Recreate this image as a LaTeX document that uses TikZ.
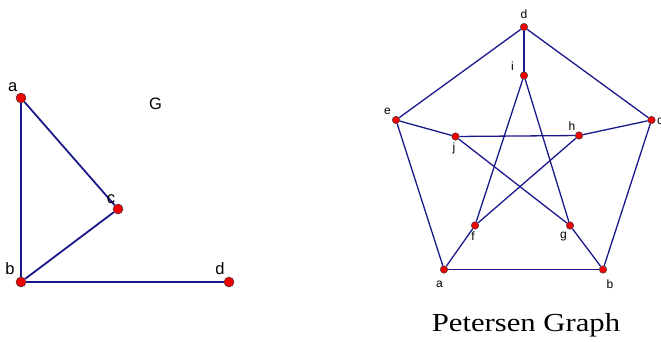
\documentclass[tikz,border=0pt]{standalone}
\usepackage{fontspec}
\setmainfont{Liberation Serif}
\setsansfont{Liberation Sans}
\usetikzlibrary{positioning}
\definecolor{edgeblue}{RGB}{25,25,140}
\definecolor{dotred}{RGB}{240,0,0}

\begin{document}
\begin{tikzpicture}[x=1pt, y=-1pt,
    vtx/.style={circle, fill=dotred, draw=black!75, line width=0.5pt,
      inner sep=0pt, minimum size=10pt},
    pvtx/.style={vtx, minimum size=7.5pt},
    lbl/.style={font=\sffamily\fontsize{16.5}{16.5}\selectfont, anchor=base, inner sep=0pt},
    plbl/.style={font=\sffamily\fontsize{12}{12}\selectfont, anchor=base, inner sep=0pt},
    gedge/.style={draw=edgeblue, line width=1.8pt},
    pedge/.style={draw=edgeblue, line width=1.3pt},
  ]
  \useasboundingbox (0,0) rectangle (661,341);

  % Left: graph G
  \node[vtx] (a) at (21,98) {};
  \node[vtx] (b) at (21,282) {};
  \node[vtx] (c) at (118,209) {};
  \node[vtx] (d) at (229,282) {};

  \draw[gedge] (a) -- (b);
  \draw[gedge] (a) -- (c);
  \draw[gedge] (b) -- (c);
  \draw[gedge] (b) -- (d);

  \node[lbl] (la) at (12.7,91.5) {a};
  \node[lbl] (lb) at (10,274) {b};
  \node[lbl] (lc) at (111,203) {c};
  \node[lbl] (ld) at (220,274) {d};
  \node[lbl] (title) at (155.5,109) {G};

  % Right: Petersen graph, outer ring
  \node[pvtx] (pd) at (524,27) {};
  \node[pvtx] (pc) at (651.5,120) {};
  \node[pvtx] (pb) at (603,269.5) {};
  \node[pvtx] (pa) at (444,269.5) {};
  \node[pvtx] (pe) at (396,120) {};

  % inner star
  \node[pvtx] (pi) at (524,75.5) {};
  \node[pvtx] (ph) at (579,135.5) {};
  \node[pvtx] (pg) at (570,225.5) {};
  \node[pvtx] (pf) at (475,225.5) {};
  \node[pvtx] (pj) at (455.5,136.5) {};

  \draw[pedge] (pd) -- (pc);
  \draw[pedge] (pc) -- (pb);
  \draw[pedge] (pb) -- (pa);
  \draw[pedge] (pa) -- (pe);
  \draw[pedge] (pe) -- (pd);

  \draw[pedge] (pd) -- (pi);
  \draw[pedge] (pc) -- (ph);
  \draw[pedge] (pb) -- (pg);
  \draw[pedge] (pa) -- (pf);
  \draw[pedge] (pe) -- (pj);

  \draw[pedge] (pi) -- (pf);
  \draw[pedge] (pi) -- (pg);
  \draw[pedge] (pj) -- (ph);
  \draw[pedge] (pj) -- (pg);
  \draw[pedge] (ph) -- (pf);

  \node[plbl] (lpd) at (524,18.5) {d};
  \node[plbl] (lpi) at (512.5,70) {i};
  \node[plbl] (lpe) at (387.5,114.5) {e};
  \node[plbl] (lph) at (572,130) {h};
  \node[plbl] (lpj) at (454,151.5) {j};
  \node[plbl] (lpf) at (473,240) {f};
  \node[plbl] (lpg) at (563.5,238.5) {g};
  \node[plbl] (lpa) at (439.5,287.5) {a};
  \node[plbl] (lpb) at (610,288.5) {b};
  \node[plbl, anchor=base west] (lpc) at (657,124) {c};

  \node[font=\fontsize{26}{26}\selectfont, anchor=base, inner sep=0pt,
    xscale=1.18, transform shape] (name) at (526,331.5) {Petersen Graph};

\end{tikzpicture}
\end{document}
